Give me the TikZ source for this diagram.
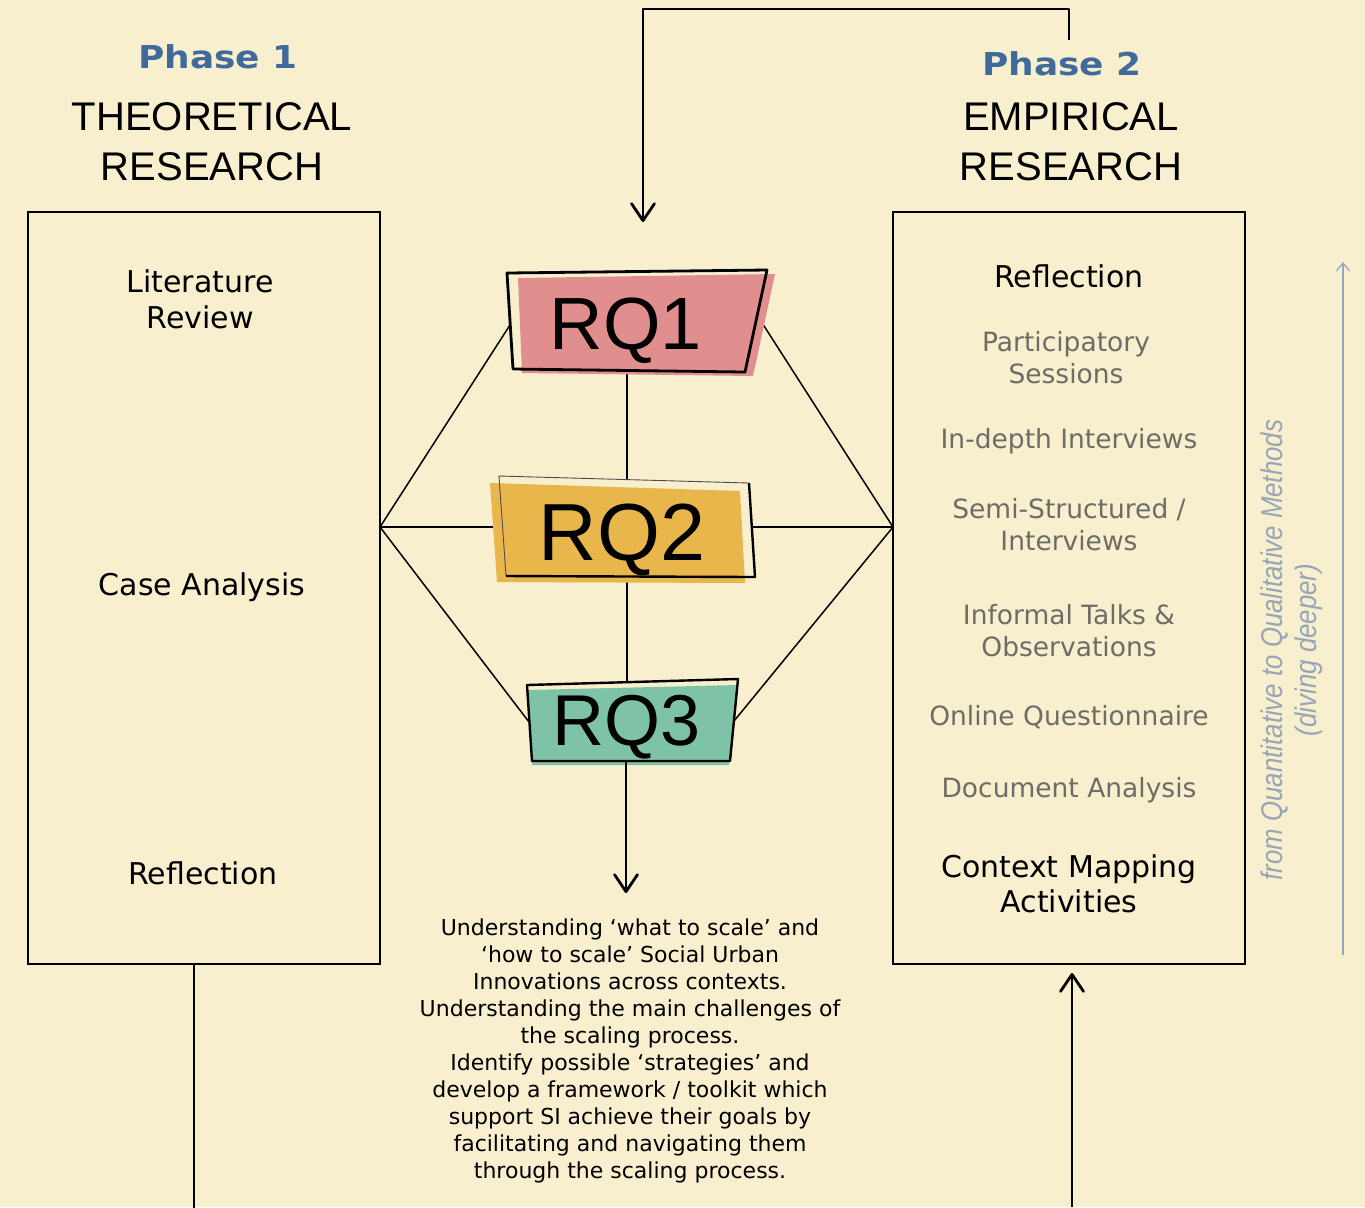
\documentclass[tikz,border=0pt]{standalone}
\usepackage{fontspec}
\usepackage{graphicx}
\setmainfont{DejaVu Sans}
\newfontfamily\headfont{Liberation Sans}
\newfontfamily\phasefont{DejaVu Sans}[FakeStretch=1.14]
\newfontfamily\notefont{Liberation Sans}[FakeStretch=0.86]
\usetikzlibrary{arrows.meta}

\definecolor{paper}{RGB}{248,239,206}
\definecolor{phaseblue}{RGB}{64,106,155}
\definecolor{methodgray}{RGB}{110,108,102}
\definecolor{notegray}{RGB}{150,166,184}
\definecolor{rqpink}{RGB}{224,142,142}
\definecolor{rqyellow}{RGB}{232,182,74}
\definecolor{rqteal}{RGB}{126,194,167}

\tikzset{
  panel/.style={draw=black, line width=0.75pt, inner sep=0pt,
    minimum width=176pt, minimum height=376pt},
  link/.style={line width=0.75pt},
  trunk/.style={line width=1.4pt},
  flow/.style={line width=1.4pt, -{Straight Barb[length=8.5pt,width=11.5pt,round]}},
  notearrow/.style={draw=notegray, line width=0.6pt, -{Straight Barb[length=4pt,width=6.5pt]}},
  phase/.style={font=\phasefont\bfseries\fontsize{15.75}{19}\selectfont, text=phaseblue, inner sep=0pt, anchor=base},
  title/.style={font=\headfont\fontsize{20}{25}\selectfont, align=center, inner sep=0pt, anchor=base},
  item/.style={font=\fontsize{15}{18}\selectfont, align=center, inner sep=0pt, anchor=base},
  method/.style={font=\fontsize{13.25}{15.75}\selectfont, text=methodgray, align=center, inner sep=0pt, anchor=base},
  rqlabel/.style={font=\headfont, inner sep=0pt, anchor=base},
  outcome/.style={font=\fontsize{11}{13.5}\selectfont, align=center, inner sep=0pt, anchor=base},
  note/.style={font=\notefont\itshape\fontsize{15}{17}\selectfont, text=notegray, align=center, inner sep=0pt, rotate=90}
}

\begin{document}
\begin{tikzpicture}[x=0.5pt, y=-0.5pt]
\fill[paper] (0,0) rectangle (1365,1207);
\useasboundingbox (0,0) rectangle (1365,1207);

% ---- phase headers (multi-line nodes sit on their last baseline) ----
\node[phase] (ph1) at (218,68) {Phase 1};
\node[title] (t1) at (212,180) {THEORETICAL\\RESEARCH};
\node[phase] (ph2) at (1062,75) {Phase 2};
\node[title] (t2) at (1071,180) {EMPIRICAL\\RESEARCH};

% ---- the two research panels ----
\node[panel] (leftbox) at (204,588) {};
\node[panel] (rightbox) at (1069,588) {};

\node[item] (lit) at (200,328) {Literature\\Review};
\node[item] (case) at (202,595) {Case Analysis};
\node[item] (refl1) at (203,884) {Reflection};

\node[item] (refl2) at (1069,287) {Reflection};
\node[method] (part) at (1066,383) {Participatory\\Sessions};
\node[method] (indepth) at (1069,448) {In-depth Interviews};
\node[method] (semi) at (1069,550) {Semi-Structured /\\Interviews};
\node[method] (talks) at (1069,656) {Informal Talks \&\\Observations};
\node[method] (online) at (1069,725) {Online Questionnaire};
\node[method] (docs) at (1069,797) {Document Analysis};
\node[item, font=\fontsize{15}{17.5}\selectfont] (ctx) at (1069,912) {Context Mapping\\Activities};

% ---- hub points and attachment points ----
\coordinate (hubL) at (380,527);
\coordinate (hubR) at (893,527);
\coordinate (q1w) at (510,325);
\coordinate (q1e) at (757,315);
\coordinate (q1s) at (627,371);
\coordinate (q2n) at (627,480);
\coordinate (q2w) at (493,527);
\coordinate (q2e) at (752,527);
\coordinate (q2s) at (627,580);
\coordinate (q3n) at (627,683);
\coordinate (q3w) at (529,722);
\coordinate (q3e) at (734,721);
\coordinate (q3s) at (626,762);
\coordinate (outTip) at (626,893);

% connectors between panels and research questions
\draw[link] (hubL) -- (q1w);
\draw[link] (hubL) -- (q2w);
\draw[link] (hubL) -- (q3w);
\draw[link] (hubR) -- (q1e);
\draw[link] (hubR) -- (q2e);
\draw[link] (hubR) -- (q3e);
\draw[link] (q1s) -- (q2n);
\draw[link] (q2s) -- (q3n);

% ---- RQ1 ----
\fill[rqpink] (518,278) -- (775,274) -- (753,376) -- (522,373) -- cycle;
\draw[line width=1.4pt, line join=round] (507,273) -- (767,270) -- (745,372) -- (513,369) -- cycle;
\node[rqlabel, font=\headfont\fontsize{37}{40}\selectfont] (rq1) at (626,349) {RQ1};

% ---- RQ2 ----
\fill[rqyellow] (490,483) -- (740,491) -- (745,583) -- (497,582) -- cycle;
\draw[line width=0.45pt, black!70] (506,576) -- (499,476) -- (749,483);
\draw[line width=1.2pt, line join=round] (749,483) -- (755,577) -- (506,576);
\node[rqlabel, font=\headfont\fontsize{40.5}{42}\selectfont] (rq2) at (622,560) {RQ2};

% ---- RQ3 ----
\fill[rqteal] (528,690) -- (737,685) -- (729,765) -- (532,765) -- cycle;
\draw[line width=1.2pt, line join=round] (527,685) -- (738,679) -- (730,761) -- (532,761) -- cycle;
\node[rqlabel, font=\headfont\fontsize{36}{37}\selectfont] (rq3) at (627,745) {RQ3};

% ---- flow arrows ----
\coordinate (loopA) at (1069,40);
\coordinate (loopB) at (643,222);
\draw[flow, line join=round] (loopA) -- ++(0,-31) -| (loopB);
\draw[flow] (q3s) -- (outTip);

\coordinate (inBot) at (1072,1207);
\coordinate (inTip) at (1072,973);
\draw[flow] (inBot) -- (inTip);
\draw[trunk] ([xshift=-5pt]leftbox.south) -- ++(0,243);

% ---- outcome text ----
\node[outcome] (goal) at (630,1178) {Understanding ‘what to scale’ and\\
‘how to scale’ Social Urban\\
Innovations across contexts.\\
Understanding the main challenges of\\
the scaling process.\\
Identify possible ‘strategies’ and\\
develop a framework / toolkit which\\
support SI achieve their goals by\\
facilitating and navigating them\\
through the scaling process.};

% ---- side note ----
\coordinate (noteS) at (1343,955);
\coordinate (noteE) at (1343,262);
\draw[notearrow] (noteS) -- (noteE);
\node[note] (depth) at (1292,650) {from Quantitative to Qualitative Methods\\(diving deeper)};
\end{tikzpicture}
\end{document}
